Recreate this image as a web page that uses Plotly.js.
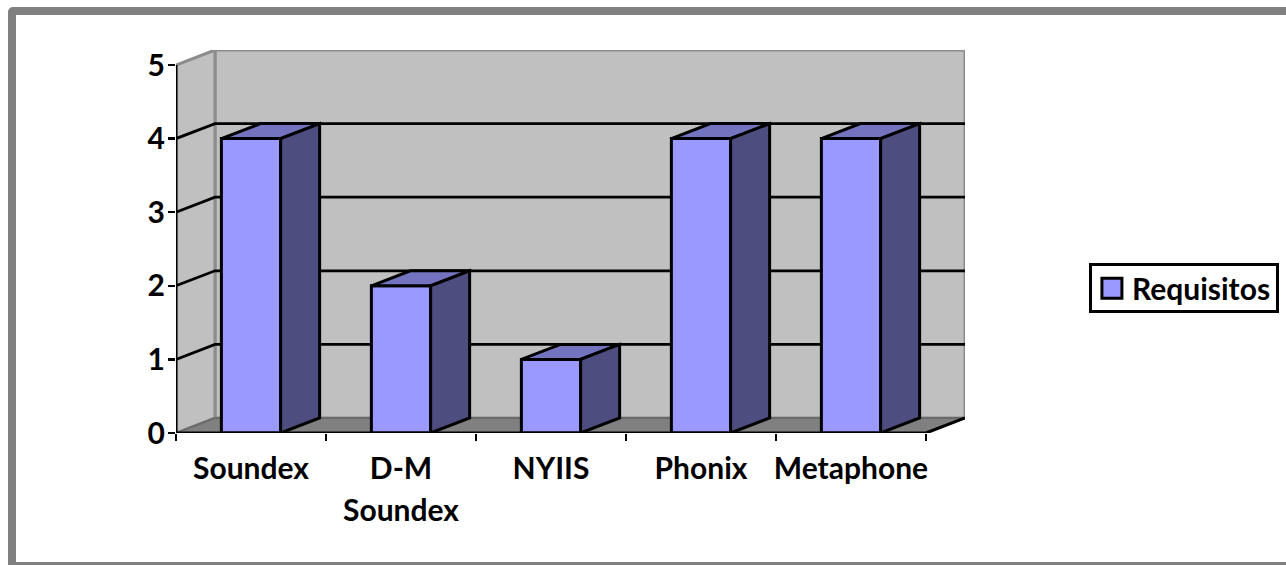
<!DOCTYPE html>
<html>
<head>
<meta charset="utf-8">
<script src="https://cdn.plot.ly/plotly-3.0.1.min.js"></script>
<style>
  html, body { margin: 0; padding: 0; background: #fff; width: 1286px; height: 565px; overflow: hidden; }
  #frame { position: absolute; left: 8px; top: 7px; width: 1300px; height: 563px; box-sizing: border-box;
           border: 8px solid #808080; border-top-left-radius: 5px; }
  #chart { position: absolute; left: 0; top: 0; width: 1286px; height: 565px; }
</style>
</head>
<body>
<div id="frame"></div>
<div id="chart"></div>
<script>
// Chart data
const categories = ['Soundex', 'D-M<br>Soundex', 'NYIIS', 'Phonix', 'Metaphone'];
const requisitos = [4, 2, 1, 4, 4];
const seriesName = 'Requisitos';
const yTicks = [0, 1, 2, 3, 4, 5];
const gridValues = [1, 2, 3, 4];

// Pseudo-3D geometry, in axis units
const depthX = 0.26;
const depthY = 0.204;
const barWidth = 0.395;
const xMin = -0.5;
const xMax = 4.5;
const yMax = 5;

// Palette
const frontColor = '#9999FF';
const topColor = '#7373BF';
const sideColor = '#4D4D80';
const wallColor = '#C0C0C0';
const floorColor = '#808080';
const edgeColor = '#8C8C8C';

const fontFamily = 'Lato, "Open Sans", sans-serif';
const labelFont = { family: fontFamily, size: 30, color: '#000', weight: 700 };

function polygon(xs, ys, fill, line, width, layer) {
  const path = xs.map((x, i) => (i ? 'L' : 'M') + x + ',' + ys[i]).join(' ') + ' Z';
  return { type: 'path', xref: 'x', yref: 'y', path, fillcolor: fill, layer: layer || 'below',
           line: { color: line, width } };
}
function polyline(xs, ys, color, width, layer) {
  const path = xs.map((x, i) => (i ? 'L' : 'M') + x + ',' + ys[i]).join(' ');
  return { type: 'path', xref: 'x', yref: 'y', path, layer: layer || 'below',
           line: { color, width } };
}

const backL = xMin + depthX, backR = xMax + depthX;
const shapes = [
  // Back wall, side wall and floor
  polygon([backL, backR, backR, backL], [depthY, depthY, yMax + depthY, yMax + depthY], wallColor, edgeColor, 3),
  polygon([xMin, backL, backL, xMin], [0, depthY, yMax + depthY, yMax], wallColor, edgeColor, 3),
  polygon([xMin, xMax, backR, backL], [0, 0, depthY, depthY], floorColor, '#6A6A6A', 2),
];
// Gridlines wrap round the side wall and across the back wall
gridValues.forEach(v => {
  shapes.push(polyline([xMin, backL, backR], [v, v + depthY, v + depthY], '#000', 2.8));
});
// Axis lines sit on top of the bars' base
shapes.push(polyline([xMin, xMin], [0, yMax], '#000', 3, 'above'));
shapes.push(polyline([xMin, xMax, backR], [0, 0, depthY], '#000', 3, 'above'));

const traces = [{
  type: 'bar',
  name: seriesName,
  x: categories.map((_, i) => i),
  y: requisitos,
  width: barWidth,
  marker: { color: frontColor, line: { color: '#000', width: 3 } },
  hoverinfo: 'y',
  showlegend: true
}];

// Top and right faces of each column
requisitos.forEach((v, i) => {
  const l = i - barWidth / 2, r = i + barWidth / 2;
  const face = (xs, ys, color) => ({
    type: 'scatter', mode: 'lines', x: xs, y: ys, fill: 'toself', fillcolor: color,
    line: { color: '#000', width: 3 }, showlegend: false, hoverinfo: 'skip'
  });
  traces.push(face([l, l + depthX, r + depthX, r, l], [v, v + depthY, v + depthY, v, v], topColor));
  traces.push(face([r, r + depthX, r + depthX, r, r], [0, depthY, v + depthY, v, 0], sideColor));
});

const layout = {
  width: 1286,
  height: 565,
  margin: { l: 176, r: 321, t: 50, b: 132, autoexpand: false },
  paper_bgcolor: 'rgba(0,0,0,0)',
  plot_bgcolor: 'rgba(0,0,0,0)',
  bargap: 0,
  xaxis: {
    type: 'linear',
    range: [xMin, xMax + depthX],
    tickmode: 'array',
    tickvals: categories.map((_, i) => i),
    ticktext: categories,
    ticks: '',
    ticklabelstandoff: 15,
    tickfont: labelFont,
    showgrid: false,
    zeroline: false,
    showline: false,
    minor: { tickmode: 'array', tickvals: [-0.5, 0.5, 1.5, 2.5, 3.5, 4.5], ticks: 'outside',
             ticklen: 7, tickwidth: 2.5, tickcolor: '#000', showgrid: false }
  },
  yaxis: {
    range: [0, yMax + depthY],
    tickmode: 'array',
    tickvals: yTicks,
    ticks: 'outside',
    ticklen: 7,
    tickwidth: 2.5,
    tickcolor: '#000',
    ticklabelstandoff: -3,
    tickfont: labelFont,
    showgrid: false,
    zeroline: false,
    showline: false
  },
  legend: {
    x: 0.9945, xref: 'container', y: 0.49, yref: 'container',
    xanchor: 'right', yanchor: 'middle',
    bgcolor: '#fff', bordercolor: '#000', borderwidth: 3,
    font: labelFont, itemwidth: 30, itemclick: false, itemdoubleclick: false
  },
  shapes,
  showlegend: true
};

Plotly.newPlot('chart', traces, layout, { displayModeBar: false, staticPlot: true }).then(() => {
  // Enlarge the legend swatch, which the library fixes at 12px
  document.querySelectorAll('.legend .legendpoints path').forEach(p => {
    p.setAttribute('d', 'M10,10H-10V-10H10Z');
  });
  // Tighten the legend box around its single entry
  const box = document.querySelector('.legend rect.bg');
  if (box) {
    box.setAttribute('y', parseFloat(box.getAttribute('y') || 0) + 4);
    box.setAttribute('height', parseFloat(box.getAttribute('height')) - 8);
  }
  // Open up the spacing of two-line category labels
  document.querySelectorAll('.xtick text tspan.line').forEach((t, i) => {
    if (i > 0) t.setAttribute('dy', '1.4em');
  });
});
</script>
</body>
</html>
